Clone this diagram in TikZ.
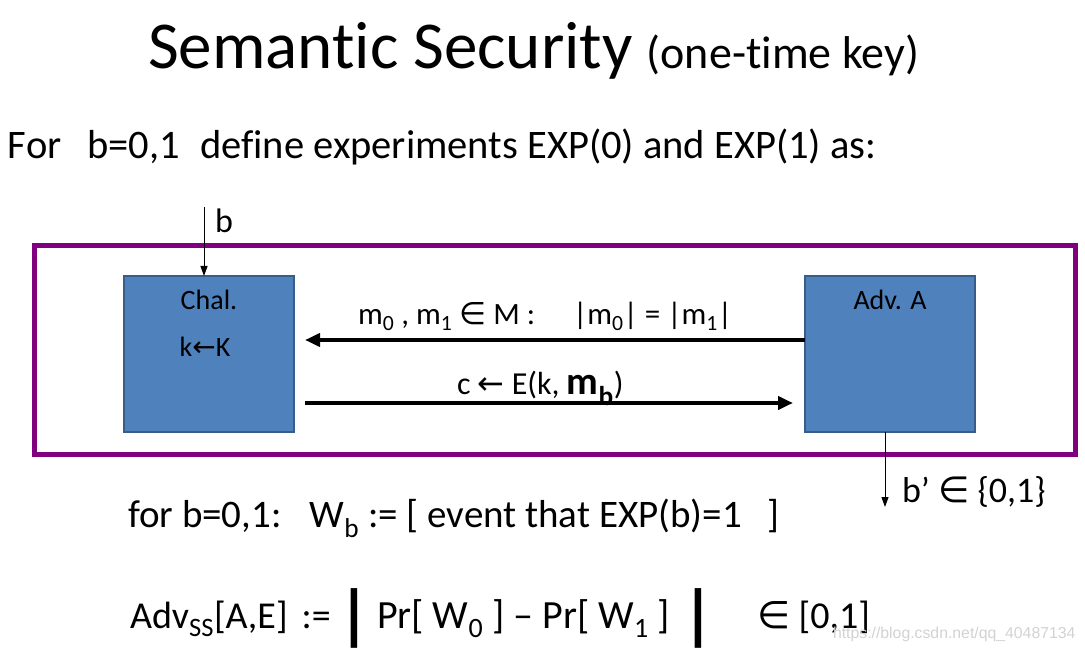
\documentclass[tikz,border=0pt]{standalone}
\usepackage{fontspec}
\setmainfont{Carlito}[Ligatures=NoCommon]
\newfontfamily\wmfont{Liberation Sans}
\newfontfamily\symfont{DejaVu Sans}
\usetikzlibrary{arrows.meta,positioning}

\definecolor{framepurple}{RGB}{128,0,128}
\definecolor{boxblue}{RGB}{79,129,189}
\definecolor{boxedge}{RGB}{56,93,138}
\newcommand\fsz[1]{\fontsize{#1}{#1}\selectfont}
\newcommand\isin{{\symfont ∈}}
\newcommand\getsarr{{\symfont ←}}

\begin{document}
\begin{tikzpicture}[x=1pt,y=-1pt,
    every node/.style={inner sep=0pt, outer sep=0pt},
    txt/.style={anchor=base west},
    party/.style={draw=boxedge, line width=1.5pt, fill=boxblue, minimum width=170pt, minimum height=156pt},
    msg/.style={line width=4.5pt, -{Triangle[length=15pt,width=13pt]}},
    tap/.style={line width=1pt, -{Triangle[length=10pt,width=7pt]}},
    absbar/.style={anchor=base, font=\fsz{67}\bfseries}]
    \useasboundingbox (0,0) rectangle (1085,652);
    % Title
    \node[txt, font=\fsz{67}] (title) at (148,69) {Semantic Security};
    \node[font=\fsz{46}, base right=14pt of title] (subtitle) {(one-time key)};
    \node[txt, font=\fsz{40.5}] (intro) at (8,159) {For\hspace{26pt}b=0,1\hspace{20pt}define experiments EXP(0) and EXP(1) as:};
    % Experiment frame
    \draw[framepurple, line width=5pt] (34.5,245.5) rectangle (1075.5,454.5);
    % Challenger and adversary
    \node[party] (chal) at (209,354) {};
    \node[party] (adv) at (890,354) {};
    \node[anchor=base, font=\fsz{28}] (chalname) at (209,310) {Chal.};
    \node[anchor=base, font=\fsz{28}] (keygen) at (205,357) {k\getsarr K};
    \node[anchor=base, font=\fsz{28}] (advname) at (890,310) {Adv. A};
    % Messages
    \draw[msg, shorten >=11pt] ([yshift=14pt]adv.west) -- ([yshift=14pt]chal.east);
    \node[txt, font=\fsz{31}] (ask) at (358,325) {m\textsubscript{0} , m\textsubscript{1} \isin{} M :\hspace{38pt}|m\textsubscript{0}| = |m\textsubscript{1}|};
    \draw[msg, shorten <=11pt, shorten >=12pt] ([yshift=-49pt]chal.east) -- ([yshift=-49pt]adv.west);
    \node[txt, font=\fsz{32}] (reply) at (457,395) {c \getsarr{} E(k, {\bfseries\fsz{39}m\textsubscript{b}})};
    % Input bit and output bit
    \coordinate (bin) at (204,207);
    \draw[tap] (bin) -- (bin |- chal.north);
    \node[txt, font=\fsz{34}] (blabel) at (215,233) {b};
    \coordinate (bout) at (885,507);
    \draw[tap] (bout |- adv.south) -- (bout);
    \node[txt, font=\fsz{36}] (bprime) at (902,502) {b’ \isin{} \{0,1\}};
    % Definitions
    \node[txt, font=\fsz{39}] (wdef) at (128,527) {for b=0,1:\hspace{28pt}W\textsubscript{b} := [ event that EXP(b)=1\hspace{26pt}]};
    \node[txt, font=\fsz{38}] (advdef) at (130,628) {Adv\textsubscript{SS}[A,E]\hspace{14pt}:=};
    \node[absbar] (barl) at (354,637) {|};
    \node[txt, font=\fsz{40}] (prdiff) at (377,628) {Pr[ W\textsubscript{0} ] – Pr[ W\textsubscript{1} ]};
    \node[absbar] (barr) at (698,637) {|};
    \node[txt, font=\fsz{38}] (range) at (757,628) {\isin{} [0,1]};
    \node[txt, font=\wmfont\fsz{15.8}, text=gray!35] (mark) at (833,638) {https://blog.csdn.net/qq\_40487134};
\end{tikzpicture}
\end{document}
